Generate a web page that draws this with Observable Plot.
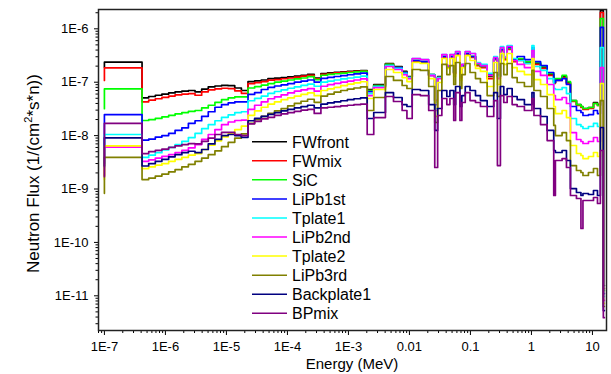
<!DOCTYPE html>
<html><head><meta charset="utf-8">
<script src="https://cdn.jsdelivr.net/npm/d3@7"></script>
<script src="https://cdn.jsdelivr.net/npm/@observablehq/plot@0.6"></script>
<style>
html,body{margin:0;padding:0;background:#fff;}
#chart{position:relative;width:611px;height:374px;}
</style></head><body><div id="chart"></div>
<script>
const names = ["FWfront","FWmix","SiC","LiPb1st","Tplate1","LiPb2nd","Tplate2","LiPb3rd","Backplate1","BPmix"];
const colors = ["#000000","#ff0000","#00ff00","#0000ff","#00ffff","#ff00ff","#ffff00","#808000","#000080","#800080"];

// upper bin edges (MeV)
const energy = [1e-7, 4.14e-7,
 5.32e-7, 6.83e-7, 8.76e-7, 1.13e-6, 1.44e-6, 1.86e-6, 2.38e-6, 3.06e-6, 3.93e-6, 5.04e-6,
 6.48e-6, 8.32e-6, 1.07e-5, 1.37e-5, 1.76e-5, 2.26e-5, 2.90e-5, 3.73e-5, 4.79e-5, 6.14e-5,
 7.89e-5, 1.01e-4, 1.30e-4, 1.67e-4, 2.14e-4, 2.75e-4, 3.54e-4, 4.54e-4, 5.83e-4, 7.49e-4,
 9.61e-4, 1.23e-3, 1.58e-3, 2.03e-3,
 2.6e-3, 4.04e-3, 5.48e-3, 7.59e-3, 9.1e-3, 1.11e-2, 1.51e-2, 2.07e-2, 2.6e-2, 2.9e-2,
 3.4e-2, 4.1e-2, 4.61e-2, 5.32e-2, 5.71e-2, 6.73e-2, 7.23e-2, 8.22e-2, 9.84e-2, 0.121,
 0.146, 0.188, 0.241, 0.277, 0.31, 0.352, 0.4, 0.483, 0.583, 0.767,
 1.02, 1.1, 1.41, 1.81, 2.32, 2.47, 3.18, 3.75, 4.36, 5.47,
 6.48, 6.99, 8.6, 10.4, 12.1, 13.5, 15.1, 15.7];

const FWfront = [1.9e-7, 2.37e-7,
 5.1e-8, 5.4e-8, 5.7e-8, 6.0e-8, 6.3e-8, 6.6e-8, 6.8e-8, 7.0e-8, 6.6e-8, 7.4e-8,
 8.2e-8, 8.5e-8, 8.7e-8, 8.6e-8, 7.8e-8, 7.0e-8, 1.03e-7, 1.06e-7, 1.1e-7, 1.17e-7,
 1.19e-7, 1.22e-7, 1.26e-7, 1.3e-7, 1.35e-7, 1.4e-7, 1.2e-7, 1.45e-7, 1.5e-7, 1.53e-7,
 1.57e-7, 1.6e-7, 1.63e-7, 1.65e-7,
 7.30e-8, 9.06e-8, 2.24e-7, 1.97e-7, 1.59e-7, 1.28e-7, 2.55e-7, 2.44e-7, 1.39e-7, 4.54e-8,
 1.28e-7, 3.03e-7, 1.97e-7, 3.03e-7, 1.52e-7, 3.45e-7, 1.28e-7, 2.05e-7, 3.45e-7, 3.03e-7,
 2.15e-7, 1.97e-7, 1.28e-7, 2.78e-7, 1.34e-7, 4.10e-7, 2.78e-7, 4.28e-7, 2.55e-7, 2.66e-7,
 2.34e-7, 3.92e-7, 2.24e-7, 1.88e-7, 1.39e-7, 9.87e-8, 1.12e-7, 1.28e-7, 9.87e-8, 4.54e-8,
 3.82e-8, 3.51e-8, 3.22e-8, 3.36e-8, 4.17e-8, 3.82e-8, 2.20e-6, 1.56e-11];

const FWmix = [1.08e-7, 1.85e-7,
 4.3e-8, 4.6e-8, 4.9e-8, 5.2e-8, 5.5e-8, 5.8e-8, 6.0e-8, 6.1e-8, 5.7e-8, 6.6e-8,
 7.2e-8, 7.5e-8, 7.7e-8, 7.6e-8, 6.9e-8, 6.2e-8, 9.4e-8, 9.8e-8, 1.03e-7, 1.09e-7,
 1.12e-7, 1.16e-7, 1.2e-7, 1.25e-7, 1.3e-7, 1.35e-7, 1.16e-7, 1.4e-7, 1.45e-7, 1.49e-7,
 1.53e-7, 1.56e-7, 1.6e-7, 1.62e-7,
 6.99e-8, 8.67e-8, 2.15e-7, 1.88e-7, 1.52e-7, 1.22e-7, 2.44e-7, 2.34e-7, 1.34e-7, 4.54e-8,
 1.22e-7, 2.90e-7, 1.88e-7, 2.90e-7, 1.46e-7, 3.30e-7, 1.22e-7, 1.97e-7, 3.30e-7, 2.90e-7,
 2.05e-7, 1.88e-7, 1.17e-7, 2.66e-7, 1.28e-7, 3.92e-7, 2.66e-7, 4.10e-7, 2.44e-7, 2.55e-7,
 2.24e-7, 3.76e-7, 2.15e-7, 1.81e-7, 1.34e-7, 9.46e-8, 1.08e-7, 1.22e-7, 9.46e-8, 4.35e-8,
 3.66e-8, 3.36e-8, 3.08e-8, 3.22e-8, 3.99e-8, 3.66e-8, 2.02e-6, 1.37e-11];

const SiC = [3.2e-8, 7.5e-8,
 1.92e-8, 2.0e-8, 2.1e-8, 2.25e-8, 2.4e-8, 2.55e-8, 2.7e-8, 2.85e-8, 2.95e-8, 3.3e-8,
 3.7e-8, 4.2e-8, 4.7e-8, 5.1e-8, 5.3e-8, 5.3e-8, 7.8e-8, 8.3e-8, 8.8e-8, 9.4e-8,
 1.0e-7, 1.05e-7, 1.1e-7, 1.15e-7, 1.2e-7, 1.27e-7, 1.12e-7, 1.35e-7, 1.4e-7, 1.44e-7,
 1.48e-7, 1.52e-7, 1.56e-7, 1.6e-7,
 6.99e-8, 8.67e-8, 2.15e-7, 1.88e-7, 1.52e-7, 1.22e-7, 2.55e-7, 2.44e-7, 1.39e-7, 4.17e-8,
 1.22e-7, 3.03e-7, 1.97e-7, 3.03e-7, 1.52e-7, 3.45e-7, 1.28e-7, 2.05e-7, 3.45e-7, 3.03e-7,
 2.15e-7, 1.97e-7, 1.34e-7, 2.78e-7, 1.34e-7, 4.10e-7, 2.78e-7, 4.28e-7, 2.55e-7, 2.78e-7,
 2.44e-7, 4.10e-7, 2.34e-7, 1.97e-7, 1.46e-7, 9.87e-8, 1.17e-7, 1.34e-7, 1.03e-7, 4.54e-8,
 3.82e-8, 3.51e-8, 3.22e-8, 3.36e-8, 3.99e-8, 3.66e-8, 1.56e-6, 1.26e-11];

const LiPb1st = [3.0e-9, 2.48e-8,
 8.2e-9, 8.6e-9, 9.4e-9, 1.0e-8, 1.1e-8, 1.25e-8, 1.4e-8, 1.7e-8, 1.9e-8, 2.3e-8,
 2.8e-8, 3.4e-8, 3.8e-8, 4.1e-8, 4.3e-8, 4.3e-8, 5.9e-8, 6.4e-8, 7.3e-8, 8.0e-8,
 8.5e-8, 8.9e-8, 9.4e-8, 1.0e-7, 1.05e-7, 1.1e-7, 1.0e-7, 1.18e-7, 1.23e-7, 1.28e-7,
 1.33e-7, 1.38e-7, 1.43e-7, 1.48e-7,
 6.69e-8, 8.31e-8, 2.05e-7, 1.88e-7, 1.52e-7, 1.22e-7, 2.55e-7, 2.44e-7, 1.34e-7, 3.82e-8,
 1.22e-7, 3.03e-7, 1.97e-7, 3.03e-7, 1.52e-7, 3.45e-7, 1.28e-7, 2.05e-7, 3.45e-7, 3.03e-7,
 2.24e-7, 2.05e-7, 1.39e-7, 2.78e-7, 1.28e-7, 4.10e-7, 2.90e-7, 4.47e-7, 2.66e-7, 3.03e-7,
 2.66e-7, 4.47e-7, 2.44e-7, 2.05e-7, 1.52e-7, 9.87e-8, 1.08e-7, 1.17e-7, 9.06e-8, 3.51e-8,
 2.95e-8, 2.71e-8, 2.38e-8, 2.48e-8, 2.95e-8, 2.59e-8, 1.06e-6, 1.10e-11];

const Tplate1 = [2.5e-9, 1.05e-8,
 3.9e-9, 4.3e-9, 4.8e-9, 5.4e-9, 6.0e-9, 6.8e-9, 7.8e-9, 9.2e-9, 1.1e-8, 1.35e-8,
 1.6e-8, 1.9e-8, 2.2e-8, 2.45e-8, 2.7e-8, 2.8e-8, 4.5e-8, 5.0e-8, 5.5e-8, 6.2e-8,
 6.7e-8, 7.2e-8, 7.7e-8, 8.2e-8, 8.7e-8, 9.2e-8, 8.4e-8, 1.0e-7, 1.05e-7, 1.1e-7,
 1.15e-7, 1.2e-7, 1.25e-7, 1.3e-7,
 6.14e-8, 8.31e-8, 2.05e-7, 1.81e-7, 1.46e-7, 1.22e-7, 2.78e-7, 2.66e-7, 1.39e-7, 3.22e-8,
 1.22e-7, 3.30e-7, 2.05e-7, 3.30e-7, 1.52e-7, 3.76e-7, 1.28e-7, 2.15e-7, 3.76e-7, 3.45e-7,
 2.34e-7, 2.15e-7, 1.46e-7, 3.03e-7, 1.28e-7, 4.66e-7, 3.03e-7, 4.87e-7, 2.78e-7, 2.55e-7,
 2.24e-7, 4.87e-7, 1.97e-7, 1.66e-7, 1.17e-7, 7.62e-8, 7.30e-8, 7.95e-8, 6.14e-8, 2.09e-8,
 1.61e-8, 1.48e-8, 1.36e-8, 1.48e-8, 1.69e-8, 1.48e-8, 4.47e-7, 9.7e-12];

const LiPb2nd = [1.8e-9, 6.1e-9,
 3.3e-9, 3.5e-9, 3.8e-9, 4.1e-9, 4.4e-9, 4.8e-9, 5.3e-9, 5.9e-9, 6.8e-9, 8.5e-9,
 1.05e-8, 1.3e-8, 1.6e-8, 1.8e-8, 1.92e-8, 1.95e-8, 3.1e-8, 3.7e-8, 4.3e-8, 4.9e-8,
 5.3e-8, 5.8e-8, 6.3e-8, 6.8e-8, 7.2e-8, 7.6e-8, 6.8e-8, 8.4e-8, 9.0e-8, 9.5e-8,
 1.0e-7, 1.05e-7, 1.1e-7, 1.15e-7,
 5.63e-8, 7.95e-8, 1.97e-7, 1.73e-7, 1.39e-7, 1.17e-7, 2.78e-7, 2.66e-7, 1.34e-7, 2.95e-8,
 1.17e-7, 3.30e-7, 2.05e-7, 3.30e-7, 1.46e-7, 3.76e-7, 1.22e-7, 2.15e-7, 3.76e-7, 3.45e-7,
 2.24e-7, 2.05e-7, 1.34e-7, 2.90e-7, 1.17e-7, 4.47e-7, 2.90e-7, 4.66e-7, 2.55e-7, 2.15e-7,
 1.88e-7, 3.92e-7, 1.59e-7, 1.34e-7, 9.06e-8, 5.63e-8, 4.74e-8, 5.17e-8, 3.99e-8, 1.14e-8,
 8.45e-9, 7.75e-9, 7.11e-9, 7.75e-9, 9.21e-9, 7.75e-9, 1.88e-7, 8.2e-12];

const Tplate2 = [1.5e-9, 6.4e-9,
 2.4e-9, 2.6e-9, 2.8e-9, 3.0e-9, 3.3e-9, 3.6e-9, 3.9e-9, 4.3e-9, 4.6e-9, 5.5e-9,
 6.6e-9, 8.0e-9, 9.5e-9, 1.1e-8, 1.3e-8, 1.5e-8, 2.4e-8, 2.9e-8, 3.4e-8, 3.9e-8,
 4.3e-8, 4.7e-8, 5.1e-8, 5.5e-8, 5.9e-8, 6.3e-8, 5.6e-8, 7.0e-8, 7.5e-8, 8.0e-8,
 8.6e-8, 9.2e-8, 9.7e-8, 1.02e-7,
 4.95e-8, 7.30e-8, 1.73e-7, 1.52e-7, 1.22e-7, 1.03e-7, 2.34e-7, 2.24e-7, 1.17e-7, 2.28e-8,
 9.87e-8, 2.78e-7, 1.81e-7, 2.78e-7, 1.28e-7, 3.16e-7, 1.08e-7, 1.88e-7, 3.16e-7, 2.55e-7,
 1.81e-7, 1.59e-7, 8.31e-8, 2.34e-7, 9.06e-8, 3.45e-7, 2.15e-7, 3.45e-7, 1.88e-7, 1.59e-7,
 1.39e-7, 2.78e-7, 1.12e-7, 9.06e-8, 5.88e-8, 3.51e-8, 2.59e-8, 2.95e-8, 2.18e-8, 6.53e-9,
 4.62e-9, 4.24e-9, 3.72e-9, 4.06e-9, 4.83e-9, 4.06e-9, 9.46e-8, 7.2e-12];

const LiPb3rd = [8.3e-10, 3.9e-9,
 1.5e-9, 1.6e-9, 1.75e-9, 1.9e-9, 2.1e-9, 2.3e-9, 2.6e-9, 2.9e-9, 3.3e-9, 3.8e-9,
 4.4e-9, 5.2e-9, 6.2e-9, 7.5e-9, 9.0e-9, 1.08e-8, 1.7e-8, 2.0e-8, 2.3e-8, 2.6e-8,
 2.9e-8, 3.2e-8, 3.6e-8, 4.0e-8, 4.4e-8, 4.8e-8, 4.2e-8, 5.5e-8, 6.0e-8, 6.5e-8,
 7.0e-8, 7.4e-8, 7.8e-8, 8.2e-8,
 2.95e-8, 5.17e-8, 1.28e-7, 1.08e-7, 8.67e-8, 7.62e-8, 1.73e-7, 1.66e-7, 8.31e-8, 1.76e-8,
 6.99e-8, 2.15e-7, 1.39e-7, 2.05e-7, 9.06e-8, 2.34e-7, 7.62e-8, 1.39e-7, 2.24e-7, 1.52e-7,
 1.17e-7, 9.87e-8, 5.63e-8, 1.52e-7, 5.40e-8, 2.24e-7, 1.39e-7, 2.24e-7, 1.22e-7, 9.87e-8,
 8.31e-8, 1.66e-7, 6.99e-8, 5.40e-8, 3.22e-8, 1.55e-8, 1.00e-8, 1.14e-8, 8.09e-9, 2.75e-9,
 2.22e-9, 2.04e-9, 1.79e-9, 2.04e-9, 2.42e-9, 1.79e-9, 4.54e-8, 6.3e-12];

const Backplate1 = [2.7e-9, 9.1e-9,
 2.7e-9, 3.0e-9, 3.3e-9, 3.6e-9, 4.0e-9, 4.4e-9, 4.8e-9, 5.1e-9, 4.8e-9, 5.5e-9,
 7.0e-9, 8.5e-9, 1.0e-8, 1.05e-8, 1.0e-8, 9.3e-9, 1.9e-8, 2.1e-8, 2.3e-8, 2.5e-8,
 2.7e-8, 2.9e-8, 3.1e-8, 3.3e-8, 3.5e-8, 3.7e-8, 3.3e-8, 3.9e-8, 4.1e-8, 4.3e-8,
 4.5e-8, 4.7e-8, 4.9e-8, 5.1e-8,
 2.09e-8, 2.71e-8, 6.41e-8, 5.17e-8, 3.82e-8, 3.51e-8, 7.30e-8, 6.99e-8, 3.82e-8, 1.25e-8,
 3.22e-8, 6.99e-8, 5.40e-8, 6.99e-8, 3.82e-8, 8.31e-8, 3.51e-8, 5.63e-8, 8.31e-8, 6.99e-8,
 5.63e-8, 4.54e-8, 3.51e-8, 6.41e-8, 2.09e-8, 8.31e-8, 5.88e-8, 7.62e-8, 5.40e-8, 4.74e-8,
 3.82e-8, 6.41e-8, 3.22e-8, 2.28e-8, 1.25e-8, 5.26e-9, 4.83e-9, 5.26e-9, 3.42e-9, 1.02e-9,
 8.60e-10, 7.56e-10, 8.24e-10, 7.89e-10, 9.37e-10, 7.56e-10, 1.42e-8, 5.3e-12];

const BPmix = [1.7e-9, 1.7e-8,
 4.6e-9, 5.0e-9, 5.3e-9, 5.6e-9, 6.0e-9, 6.4e-9, 6.8e-9, 7.1e-9, 7.0e-9, 7.8e-9,
 9.0e-9, 1.05e-8, 1.15e-8, 1.15e-8, 1.05e-8, 1.0e-8, 1.66e-8, 1.85e-8, 2.05e-8, 2.2e-8,
 2.4e-8, 2.55e-8, 2.7e-8, 2.85e-8, 3.0e-8, 3.1e-8, 2.6e-8, 3.3e-8, 3.4e-8, 3.5e-8,
 3.6e-8, 3.7e-8, 3.8e-8, 3.9e-8,
 1.05e-8, 2.18e-8, 5.40e-8, 4.35e-8, 2.95e-8, 2.09e-8, 5.88e-8, 5.63e-8, 2.95e-8, 2.53e-9,
 2.38e-8, 4.95e-8, 3.82e-8, 4.95e-8, 1.92e-8, 6.41e-8, 1.92e-8, 4.17e-8, 6.41e-8, 4.54e-8,
 4.17e-8, 3.51e-8, 2.28e-8, 4.54e-8, 2.75e-9, 5.63e-8, 4.17e-8, 5.40e-8, 3.82e-8, 3.51e-8,
 2.95e-8, 4.95e-8, 2.38e-8, 1.61e-8, 8.09e-9, 7.56e-10, 3.42e-9, 3.72e-9, 2.53e-9, 7.56e-10,
 6.64e-10, 1.82e-10, 6.09e-10, 6.09e-10, 6.93e-10, 5.35e-10, 5.26e-9, 3.9e-12];

const xTicks = [1e-7, 1e-6, 1e-5, 1e-4, 1e-3, 1e-2, 1e-1, 1, 10];
const xTickLabels = ["1E-7","1E-6","1E-5","1E-4","1E-3","0.01","0.1","1","10"];
const yTicks = [1e-11, 1e-10, 1e-9, 1e-8, 1e-7, 1e-6];
const yTickLabels = ["1E-11","1E-10","1E-9","1E-8","1E-7","1E-6"];

const series = [FWfront, FWmix, SiC, LiPb1st, Tplate1, LiPb2nd, Tplate2, LiPb3rd, Backplate1, BPmix];
const rows = [];
series.forEach((vals, s) => vals.forEach((v, i) => rows.push({name: names[s], energy: energy[i], flux: v})));

const xDomain = [0.8e-7, 17];
const yDomain = [2.24e-12, 2.3e-6];
function minorTicks(dom) {
  const out = [];
  for (let p = -13; p <= 2; p++) for (let k = 2; k <= 9; k++) {
    const v = k * Math.pow(10, p);
    if (v >= dom[0] && v <= dom[1]) out.push(v);
  }
  return out;
}
const xLab = new Map(xTicks.map((d, i) => [d, xTickLabels[i]]));
const yLab = new Map(yTicks.map((d, i) => [d, yTickLabels[i]]));
const font = "'Liberation Sans', Arial, Helvetica, sans-serif";

const chart = Plot.plot({
  width: 611, height: 374,
  marginLeft: 98, marginRight: 5, marginTop: 9, marginBottom: 44,
  style: {fontFamily: font, fontSize: "13px", color: "#000", background: "#fff", overflow: "visible"},
  x: {type: "log", domain: xDomain},
  y: {type: "log", domain: yDomain},
  color: {domain: names, range: colors},
  marks: [
    Plot.axisX({ticks: minorTicks(xDomain), tickSize: 3, tickFormat: () => "", label: null}),
    Plot.axisX({ticks: xTicks, tickSize: 5, tickPadding: 6, tickFormat: d => xLab.get(d), label: null, fontSize: 13}),
    Plot.axisY({ticks: minorTicks(yDomain), tickSize: 2.5, tickFormat: () => "", label: null}),
    Plot.axisY({ticks: yTicks, tickSize: 4, tickPadding: 6, tickFormat: d => yLab.get(d), label: null, fontSize: 13}),
    Plot.line(rows, {x: "energy", y: "flux", z: "name", stroke: "name", curve: "step-before", strokeWidth: 1.7, clip: true}),
    Plot.frame({stroke: "#222", strokeWidth: 1.5})
  ]
});
document.getElementById("chart").appendChild(chart);

const svg = d3.select(chart);
svg.append("text").attr("x", 352).attr("y", 369).attr("text-anchor", "middle")
  .style("font-family", font).style("font-size", "15px").attr("fill", "#000").text("Energy (MeV)");
const yt = svg.append("text").attr("transform", "translate(38.5,173.5) rotate(-90)")
  .attr("text-anchor", "middle").style("font-family", font).style("font-size", "17px").attr("fill", "#000");
yt.append("tspan").text("Neutron Flux (1/(cm");
yt.append("tspan").attr("dy", -7).style("font-size", "11px").text("2");
yt.append("tspan").attr("dy", 7).text("*s*n))");

const lg = svg.append("g").style("font-family", font).style("font-size", "16px");
names.forEach((n, i) => {
  const y = 141.7 + 19.07 * i;
  lg.append("line").attr("x1", 252).attr("x2", 287).attr("y1", y).attr("y2", y)
    .attr("stroke", colors[i]).attr("stroke-width", 1.5);
  lg.append("text").attr("x", 292).attr("y", y + 5.8).attr("text-anchor", "start")
    .attr("fill", "#000").text(n);
});
</script></body></html>
